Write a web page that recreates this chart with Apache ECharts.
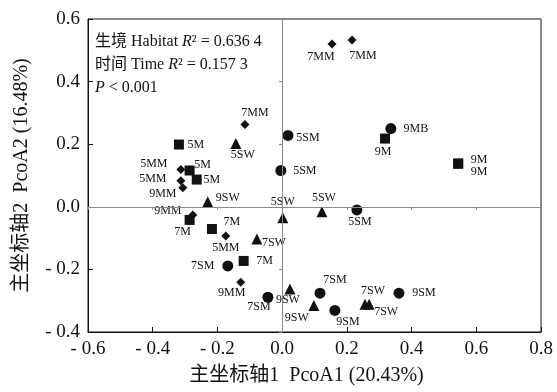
<!DOCTYPE html>
<html>
<head>
<meta charset="utf-8">
<script src="https://cdn.jsdelivr.net/npm/echarts@6/dist/echarts.min.js"></script>
<style>
html, body { margin: 0; padding: 0; background: #fff; }
#pcoa { width: 557px; height: 392px; }
</style>
</head>
<body>
<div id="pcoa"></div>
<script>
// PCoA scores
var mX = [-0.319, -0.286, -0.264, -0.286, -0.217, -0.119, 0.318, 0.544, 0.544];
var mY = [0.199, 0.116, 0.087, -0.042, -0.071, -0.173, 0.218, 0.138, 0.138];
var mLabels = ['5M', '5M', '5M', '7M', '7M', '7M', '9M', '9M', '9M'];

var mmX = [0.154, 0.216, -0.115, -0.313, -0.313, -0.307, -0.276, -0.174, -0.128];
var mmY = [0.520, 0.533, 0.263, 0.119, 0.083, 0.061, -0.026, -0.093, -0.241];
var mmLabels = ['7MM', '7MM', '7MM', '5MM', '5MM', '9MM', '9MM', '5MM', '9MM'];

var swX = [-0.143, -0.230, 0.002, 0.123, -0.078, 0.024, 0.098, 0.256, 0.269];
var swY = [0.202, 0.016, -0.035, -0.016, -0.103, -0.263, -0.315, -0.311, -0.311];
var swLabels = ['5SW', '9SW', '5SW', '5SW', '7SW', '9SW', '9SW', '7SW', '7SW'];

var smX = [0.018, -0.004, 0.231, 0.336, -0.168, -0.044, 0.117, 0.163, 0.361];
var smY = [0.228, 0.116, -0.010, 0.250, -0.189, -0.289, -0.276, -0.331, -0.276];
var smLabels = ['5SM', '5SM', '5SM', '9MB', '7SM', '7SM', '7SM', '9SM', '9SM'];

// where each point's label sits, relative to the point (px)
var mOffsets = [[17, 0], [13, -6], [15, 0], [-7, 12], [20, -7], [21, 0], [-2, 13], [21, -4], [21, 8]];
var mmOffsets = [[-11, 13], [11, 16], [10, -12], [-27, -6], [-28, -2], [-20, 6], [-25, -4], [0, 12], [-9, 11]];
var swOffsets = [[7, 11], [20, -4], [0, -16], [2, -14], [17, 4], [-2, 11], [-17, 12], [8, -13], [17, 8]];
var smOffsets = [[20, 2], [24, 0], [3, 12], [25, 0], [-25, 0], [-9, 10], [15, -13], [13, 11], [25, 0]];

var serif = "'Liberation Serif', 'Noto Sans CJK SC', serif";

function buildData(xs, ys, labels, offsets) {
  var out = [];
  for (var i = 0; i < xs.length; i++) {
    out.push({
      value: [xs[i], ys[i]],
      name: labels[i],
      label: { offset: offsets[i] }
    });
  }
  return out;
}

function tickFmt(v) {
  if (v < 0) return '- ' + Math.abs(v).toFixed(1);
  return Math.abs(v).toFixed(1);
}

function makeSeries(data, symbol, size) {
  return {
    type: 'scatter',
    data: data,
    symbol: symbol,
    symbolSize: size,
    itemStyle: { color: '#111', opacity: 1 },
    label: {
      show: true,
      position: 'inside',
      formatter: '{b}',
      color: '#111',
      fontFamily: serif,
      fontSize: 12,
      align: 'center',
      verticalAlign: 'middle'
    },
    z: 3
  };
}

var chart = echarts.init(document.getElementById('pcoa'));

var sM = makeSeries(buildData(mX, mY, mLabels, mOffsets), 'rect', 10);
sM.markLine = {
  silent: true,
  symbol: 'none',
  label: { show: false },
  lineStyle: { color: '#8a8a8a', type: 'solid', width: 1 },
  data: [{ xAxis: 0 }, { yAxis: 0 }]
};

var option = {
  backgroundColor: '#fff',
  animation: false,
  title: {
    left: 90,
    top: 25,
    text: '{t|生境 Habitat }{i|R}{t|² = 0.636 4}\n{t|时间 Time }{i|R}{t|² = 0.157 3}\n{i|P}{t| < 0.001}',
    textStyle: {
      fontWeight: 'normal',
      lineHeight: 23,
      rich: {
        t: { fontFamily: serif, fontSize: 16, fontWeight: 'normal', color: '#111', lineHeight: 23 },
        i: { fontFamily: serif, fontSize: 16, fontWeight: 'normal', fontStyle: 'italic', color: '#111', lineHeight: 23 }
      }
    }
  },
  grid: {
    left: 88,
    right: 16,
    top: 19,
    bottom: 60,
    show: true,
    borderColor: '#111',
    borderWidth: 1
  },
  xAxis: [
    {
      type: 'value',
      min: -0.6,
      max: 0.8,
      interval: 0.2,
      name: '主坐标轴1  PcoA1 (20.43%)',
      nameLocation: 'middle',
      nameGap: 34,
      nameTextStyle: { fontFamily: serif, fontSize: 20, color: '#111', padding: [0, 16, 0, 0] },
      axisLine: { onZero: false, lineStyle: { color: '#111' } },
      axisTick: { inside: true, length: 5, lineStyle: { color: '#111' } },
      axisLabel: { formatter: tickFmt, fontFamily: serif, fontSize: 19, color: '#111', margin: 8 },
      splitLine: { show: false }
    },
    {
      type: 'value',
      min: -0.6,
      max: 0.8,
      interval: 0.2,
      position: 'bottom',
      axisLine: { onZero: true, lineStyle: { color: '#8a8a8a' } },
      axisTick: { inside: false, length: 3, lineStyle: { color: '#8a8a8a' } },
      axisLabel: { show: false },
      splitLine: { show: false }
    }
  ],
  yAxis: [
    {
      type: 'value',
      min: -0.4,
      max: 0.6,
      interval: 0.2,
      name: '主坐标轴2  PcoA2 (16.48%)',
      nameLocation: 'middle',
      nameGap: 56,
      nameTextStyle: { fontFamily: serif, fontSize: 20, color: '#111' },
      axisLine: { onZero: false, lineStyle: { color: '#111' } },
      axisTick: { inside: true, length: 5, lineStyle: { color: '#111' } },
      axisLabel: { formatter: tickFmt, fontFamily: serif, fontSize: 19, color: '#111', margin: 8 },
      splitLine: { show: false }
    },
    {
      type: 'value',
      min: -0.4,
      max: 0.6,
      interval: 0.2,
      position: 'left',
      axisLine: { onZero: true, lineStyle: { color: '#8a8a8a' } },
      axisTick: { inside: false, length: 3, lineStyle: { color: '#8a8a8a' } },
      axisLabel: { show: false },
      splitLine: { show: false }
    }
  ],
  series: [
    sM,
    makeSeries(buildData(mmX, mmY, mmLabels, mmOffsets), 'diamond', 9),
    makeSeries(buildData(swX, swY, swLabels, swOffsets), 'triangle', 11),
    makeSeries(buildData(smX, smY, smLabels, smOffsets), 'circle', 11)
  ]
};

chart.setOption(option);
</script>
</body>
</html>
